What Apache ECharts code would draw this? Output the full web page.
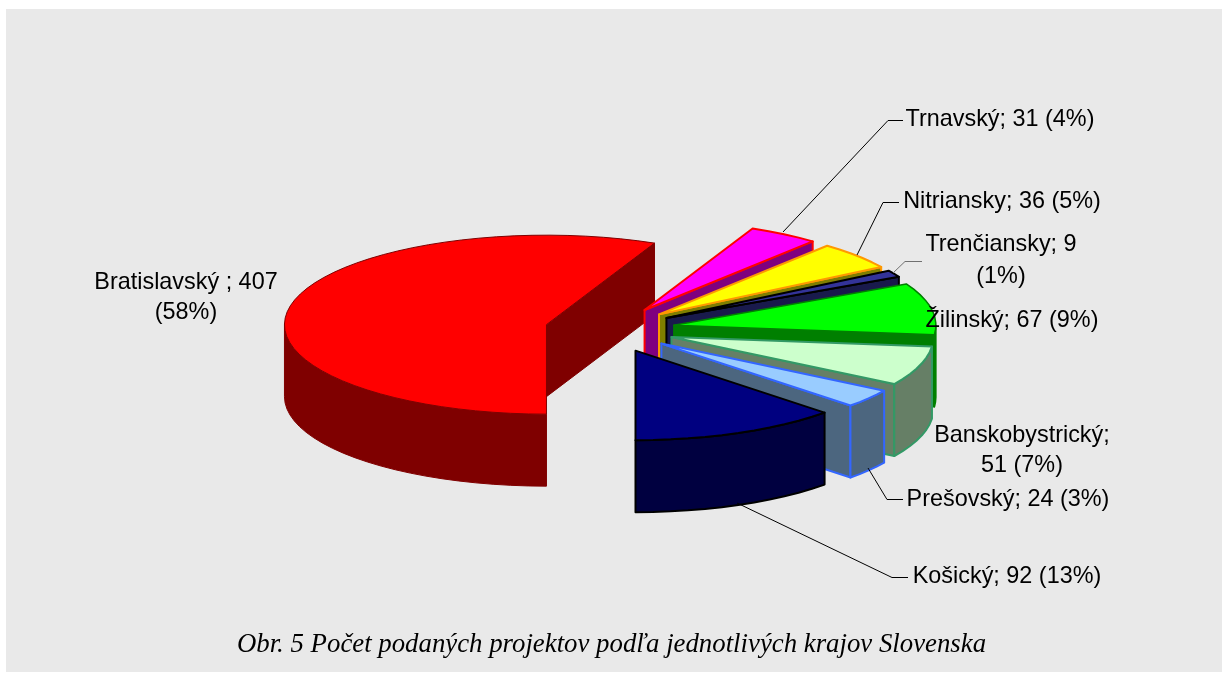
<!DOCTYPE html>
<html>
<head>
<meta charset="utf-8">
<style>html,body{margin:0;padding:0;background:#fff}#c{width:1228px;height:674px}</style>
<script src="https://cdn.jsdelivr.net/npm/echarts@6/dist/echarts.min.js"></script>
</head>
<body>
<div id="c"></div>
<script>
// ---- data ----
var regions = ['Bratislavský ', 'Trnavský', 'Nitriansky', 'Trenčiansky', 'Žilinský', 'Banskobystrický', 'Prešovský', 'Košický'];
var projectCounts = [407, 31, 36, 9, 67, 51, 24, 92];
var percentLabels = [58, 4, 5, 1, 9, 7, 3, 13];
var captionText = 'Obr. 5 Počet podaných projektov podľa jednotlivých krajov Slovenska';

// ---- styles ----
var topColors = ['#FF0000', '#FF00FF', '#FFFF00', '#333399', '#00FF00', '#CCFFCC', '#99CCFF', '#000080'];
var wallColors = ['#7F0000', '#7F007F', '#7F7F00', '#191A4C', '#007F00', '#667F66', '#4C667F', '#000040'];
var edgeColors = ['#800000', '#FF0000', '#FF9900', '#000000', '#008000', '#339966', '#3366FF', '#000000'];
var edgeWidths = [1, 2, 2, 2, 1.5, 2, 2, 2];

// ---- pie layout ----
var centerX = 610, centerY = 329.5, radiusX = 262, radiusY = 89.5, thickness = 72;
var explodeX = 65, explodeY = 23, startAngle = 180, arcStep = 4;

// label layout: text centre, line positions, wrap rule, leader path
var labelLayout = [
  {x: 186, ys: [282.5, 312.5], wrap: 'percent', leader: null},
  {x: 1000, ys: [119.5], wrap: '', leader: [[783, 232], [888, 120.5], [903, 120.5]]},
  {x: 1002, ys: [201.5], wrap: '', leader: [[857, 255], [883, 202.5], [899, 202.5]]},
  {x: 1001, ys: [244.5, 276.5], wrap: 'percent', leader: [[893, 273], [905, 261.5], [922, 261.5]], leaderColor: '#707070'},
  {x: 1012, ys: [320.5], wrap: '', leader: null},
  {x: 1022, ys: [435.5, 465.5], wrap: 'value', leader: null},
  {x: 1008, ys: [499.5], wrap: '', leader: [[868, 468], [887, 499.5], [903, 499.5]]},
  {x: 1007, ys: [576.5], wrap: '', leader: [[737, 503], [892, 577.5], [908, 577.5]]}
];

var total = projectCounts.reduce(function (a, b) { return a + b; }, 0);

function rad(d) { return d * Math.PI / 180; }
function pt(ox, oy, deg, dz) {
  return [ox + radiusX * Math.sin(rad(deg)), oy - radiusY * Math.cos(rad(deg)) + (dz || 0)];
}
function arc(ox, oy, a0, a1, dz) {
  var pts = [], n = Math.max(1, Math.ceil((a1 - a0) / arcStep));
  for (var i = 0; i <= n; i++) pts.push(pt(ox, oy, a0 + (a1 - a0) * i / n, dz));
  return pts;
}
function facing(deg) { var d = ((deg % 360) + 360) % 360; return d > 90 && d < 270; }

function renderSlice(params, api) {
  var idx = params.dataIndex, before = 0;
  for (var k = 0; k < idx; k++) before += projectCounts[k];
  var value = api.value(0);
  var a0 = startAngle + before / total * 360;
  var a1 = a0 + value / total * 360;
  var mid = (a0 + a1) / 2;
  var ox = centerX + explodeX * Math.sin(rad(mid));
  var oy = centerY - explodeY * Math.cos(rad(mid));
  var kids = [];
  var wallStyle = {fill: wallColors[idx], stroke: edgeColors[idx], lineWidth: edgeWidths[idx], lineJoin: 'round'};
  var topStyle = {fill: topColors[idx], stroke: edgeColors[idx], lineWidth: edgeWidths[idx], lineJoin: 'round'};

  function addSide(deg) {
    var p = pt(ox, oy, deg), q = pt(ox, oy, deg, thickness);
    kids.push({type: 'polygon', shape: {points: [[ox, oy], p, q, [ox, oy + thickness]]}, style: wallStyle});
  }
  if (facing(a0 - 90)) addSide(a0);
  if (facing(a1 + 90)) addSide(a1);

  // outer wall: only the parts turned toward the viewer
  [[90, 270], [450, 630]].forEach(function (w) {
    var s = Math.max(a0, w[0]), e = Math.min(a1, w[1]);
    if (e > s) {
      var up = arc(ox, oy, s, e, 0), down = arc(ox, oy, s, e, thickness).reverse();
      kids.push({type: 'polygon', shape: {points: up.concat(down)}, style: wallStyle});
    }
  });

  kids.push({type: 'polygon', shape: {points: [[ox, oy]].concat(arc(ox, oy, a0, a1, 0))}, style: topStyle});

  // leader + label
  var lay = labelLayout[idx];
  if (lay.leader) {
    kids.push({type: 'polyline', shape: {points: lay.leader},
      style: {fill: 'none', stroke: lay.leaderColor || '#000', lineWidth: 1}});
  }
  var name = regions[idx] + ';', val = value + '', pct = '(' + percentLabels[idx] + '%)';
  var lines = lay.wrap === 'percent' ? [name + ' ' + val, pct]
            : lay.wrap === 'value' ? [name, val + ' ' + pct]
            : [name + ' ' + val + ' ' + pct];
  lines.forEach(function (t, i) {
    kids.push({type: 'text', z2: 50, style: {text: t, x: lay.x, y: lay.ys[i], align: 'center', verticalAlign: 'middle',
      font: '23.4px "Liberation Sans", Arial, sans-serif', fill: '#000'}});
  });
  return {type: 'group', children: kids};
}

var chart = echarts.init(document.getElementById('c'), null, {renderer: 'canvas'});
chart.setOption({
  animation: false,
  backgroundColor: '#fff',
  title: {
    text: captionText, left: 606.5, top: 626, textAlign: 'center',
    textStyle: {fontFamily: '"Liberation Serif", "Times New Roman", serif', fontStyle: 'italic', fontWeight: 'normal', fontSize: 26.8, color: '#000'}
  },
  graphic: [{type: 'rect', z: -10, silent: true, shape: {x: 6, y: 9, width: 1216, height: 663}, style: {fill: '#E9E9E9'}}],
  series: [{
    type: 'custom',
    coordinateSystem: 'none',
    renderItem: renderSlice,
    data: projectCounts.map(function (v, i) { return {name: regions[i], value: [v]}; }),
    encode: {value: 0},
    silent: true
  }]
});
</script>
</body>
</html>
